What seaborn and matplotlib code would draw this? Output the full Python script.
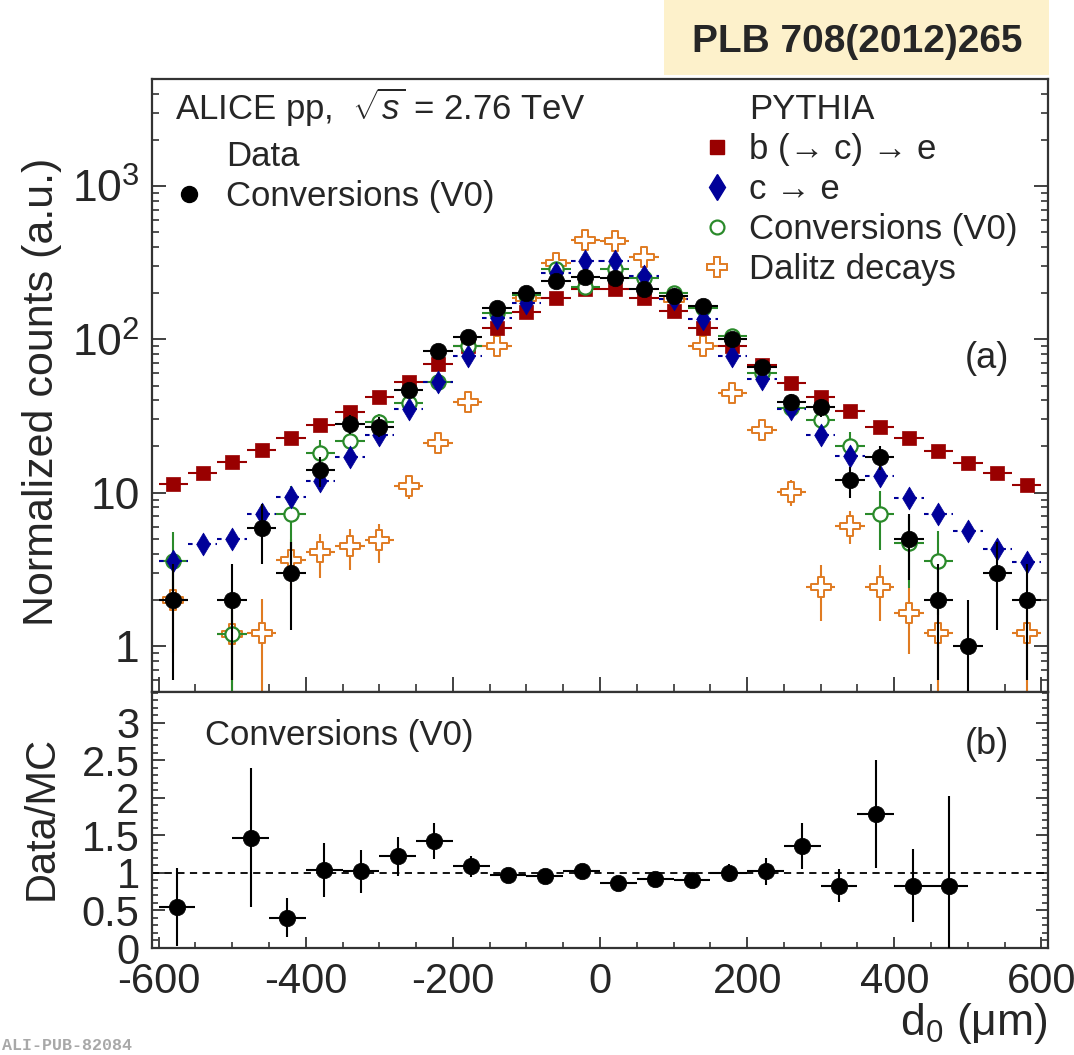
import numpy as np
import pandas as pd
import matplotlib
matplotlib.use("Agg")
import matplotlib.pyplot as plt
import seaborn as sns
from matplotlib.lines import Line2D
from matplotlib.patches import Rectangle
from matplotlib.ticker import FixedLocator, FixedFormatter, MultipleLocator, NullFormatter

# ---------------- data ----------------
d0_bins = [-580, -540, -500, -460, -420, -380, -340, -300, -260, -220,
           -180, -140, -100, -60, -20, 20, 60, 100, 140, 180,
           220, 260, 300, 340, 380, 420, 460, 500, 540, 580]
bin_half_width = 20

nan = np.nan
data_conv = [2.0, nan, 2.0, 5.9, 3.0, 14, 28, 27, 47, 84,
             103, 161, 200, 240, 257, 253, 214, 192, 164, 100,
             66, 39, 36, 12, 17.1, 5.0, 2.0, 1.0, 3.0, 2.0]
data_conv_err = [1.4, nan, 1.4, 2.5, 1.73, 3.2, 4, 4, 5, 6,
                 6, 7, 8, 8, 8, 8, 8, 7, 7, 6,
                 6, 5, 5, 2.8, 3.1, 2.3, 1.4, 0.99, 1.73, 1.4]

mc_bce = [11.3, 13.4, 15.8, 18.9, 22.8, 27.5, 33.7, 42, 52.6, 69,
          91, 119, 151, 187, 212, 212, 185, 152, 119, 90,
          68, 52, 42, 34, 27, 22.6, 18.8, 15.6, 13.5, 11.2]

mc_ce = [3.6, 4.6, 5.0, 7.3, 9.4, 11.9, 17.1, 23.6, 35.2, 52.6,
         78, 138, 174, 273, 325, 325, 259, 183, 135, 78,
         55, 35, 23.6, 17.3, 12.8, 9.2, 7.3, 5.6, 4.3, 3.5]

mc_conv = [3.6, nan, 1.2, nan, 7.2, 18, 21.6, 28.8, 38.6, 52.6,
           91, 149, 195, 287, 218, 287, 253, 200, 160, 105,
           60, 35.7, 29.7, 20.1, 7.2, 4.7, 3.6, nan, nan, nan]
mc_conv_err = [1.9, nan, 0.85, nan, 3.9, 4, 3.5, 4, 5, 6,
               8, 10, 12, 14, 12, 14, 13, 12, 10, 8,
               6, 5, 4.5, 4.8, 3, 2.3, 2, nan, nan, nan]

mc_dalitz = [2.0, nan, 1.2, 1.21, 3.65, 4.07, 4.46, 4.88, 11.0, 21.1,
             38.9, 91, 185, 317, 444, 436, 346, 183, 91, 45,
             25.7, 10.1, 2.42, 6.1, 2.42, 1.63, 1.21, nan, nan, 1.21]
mc_dalitz_err = [1.1, nan, 0.8, 0.8, 1.3, 1.3, 1.35, 1.4, 1.9, 2.5,
                 3, 5, 7, 9, 10, 10, 9, 7, 5, 3,
                 2.5, 1.9, 0.97, 1.5, 0.97, 0.75, 0.8, nan, nan, 0.8]

ratio_bins = [-575, -475, -425, -375, -325, -275, -225, -175, -125, -75, -25,
              25, 75, 125, 175, 225, 275, 325, 375, 425, 475]
ratio_half_width = 25
ratio_vals = [0.55, 1.47, 0.40, 1.04, 1.02, 1.22, 1.43, 1.09, 0.97, 0.96, 1.03,
              0.87, 0.92, 0.91, 1.00, 1.02, 1.36, 0.83, 1.78, 0.83, 0.83]
ratio_err = [0.52, 0.93, 0.26, 0.36, 0.29, 0.26, 0.24, 0.14, 0.04, 0.04, 0.04,
             0.04, 0.04, 0.04, 0.12, 0.18, 0.31, 0.22, 0.72, 0.49, 1.2]

y_major_top = [1, 10, 100, 1000]
y_major_top_labels = ["1", "10", r"$10^{2}$", r"$10^{3}$"]
x_major = [-600, -400, -200, 0, 200, 400, 600]
x_major_labels = ["-600", "-400", "-200", "0", "200", "400", "600"]
y_major_bot = [0, 0.5, 1, 1.5, 2, 2.5, 3]
y_major_bot_labels = ["0", "0.5", "1", "1.5", "2", "2.5", "3"]

# ---------------- style ----------------
sns.set_style("ticks")
plt.rcParams["font.family"] = ["Liberation Sans", "DejaVu Sans"]
plt.rcParams["mathtext.fontset"] = "custom"
plt.rcParams["mathtext.rm"] = "Liberation Sans"
plt.rcParams["mathtext.it"] = "Liberation Sans:italic"
plt.rcParams["mathtext.bf"] = "Liberation Sans:bold"

SPINE = "#333333"
C_DATA = "black"
C_BCE = "#990000"
C_CE = "#000099"
C_CONV = "#2a8a2a"
C_DAL = "#e07b22"

W, H = 1074, 1055
fig = plt.figure(figsize=(W / 100, H / 100), dpi=100)
fig.patch.set_facecolor("white")


def fx(px):
    return px / W


def fy(py):
    return 1 - py / H


ax1 = fig.add_axes([fx(152), fy(692), 896 / W, 613 / H])
ax2 = fig.add_axes([fx(152), fy(948), 896 / W, 256 / H])

x = np.array(d0_bins, dtype=float)


def draw_series(ax, xs, ys, errs, xerr, color, marker, s, face, lw, z, dashed=False):
    ys = np.asarray(ys, dtype=float)
    if errs is not None:
        errs = np.asarray(errs, dtype=float)
        lower = np.minimum(errs, ys * 0.995)
        yerr = [lower, errs]
    else:
        yerr = None
    cont = ax.errorbar(xs, ys, xerr=xerr, yerr=yerr, fmt="none", ecolor=color,
                       elinewidth=1.5, capsize=0, zorder=z)
    if dashed:
        cont[2][0].set_linestyle((0, (2.2, 2.2)))
    df = pd.DataFrame({"d0": xs, "v": ys}).dropna()
    sns.scatterplot(data=df, x="d0", y="v", ax=ax, marker=marker, s=s,
                    color=face, edgecolor=color, linewidth=lw, zorder=z + 0.5,
                    legend=False)


ax1.set_yscale("log")
draw_series(ax1, x, mc_dalitz, mc_dalitz_err, bin_half_width, C_DAL, "P", 200, "white", 1.4, 2)
draw_series(ax1, x, mc_bce, None, bin_half_width, C_BCE, "s", 100, C_BCE, 0.5, 3)
draw_series(ax1, x, mc_conv, mc_conv_err, bin_half_width, C_CONV, "o", 105, "white", 1.6, 4)
draw_series(ax1, x, mc_ce, None, bin_half_width, C_CE, "d", 135, C_CE, 0.5, 5, dashed=True)
draw_series(ax1, x, data_conv, data_conv_err, bin_half_width, C_DATA, "o", 140, C_DATA, 0.5, 6)

ax1.set_xlim(-609, 609)
ax1.set_ylim(0.5, 5000)
ax1.set_xlabel("")
ax1.set_ylabel("")

# ratio panel
ax2.axhline(1.0, color="black", lw=1.3, ls=(0, (4, 3)), zorder=1)
draw_series(ax2, np.array(ratio_bins, dtype=float), ratio_vals, ratio_err,
            ratio_half_width, C_DATA, "o", 140, C_DATA, 0.5, 6)
ax2.set_xlim(-609, 609)
ax2.set_ylim(0, 3.41)
ax2.set_xlabel("")
ax2.set_ylabel("")

# ---------------- axes cosmetics ----------------
for ax in (ax1, ax2):
    for sp in ax.spines.values():
        sp.set_visible(True)
        sp.set_color(SPINE)
        sp.set_linewidth(1.6)
    ax.xaxis.set_major_locator(FixedLocator(x_major))
    ax.xaxis.set_minor_locator(MultipleLocator(50))

ax1.yaxis.set_major_locator(FixedLocator(y_major_top))
ax1.yaxis.set_major_formatter(FixedFormatter(y_major_top_labels))
ax1.yaxis.set_minor_locator(FixedLocator(
    [m * 10.0 ** e for e in range(-1, 4) for m in range(2, 10)]))
ax1.yaxis.set_minor_formatter(NullFormatter())
ax1.tick_params(axis="both", which="both", direction="in", color=SPINE,
                top=False, right=True, bottom=True, left=True, labelbottom=False)
ax1.tick_params(axis="x", which="major", length=11, width=1.3)
ax1.tick_params(axis="x", which="minor", length=5.5, width=1.2)
ax1.tick_params(axis="y", which="major", length=10, width=1.3, labelsize=32, pad=9)
ax1.tick_params(axis="y", which="minor", length=5, width=1.2)

ax2.yaxis.set_major_locator(FixedLocator(y_major_bot))
ax2.yaxis.set_major_formatter(FixedFormatter(y_major_bot_labels))
ax2.yaxis.set_minor_locator(MultipleLocator(0.1))
ax2.xaxis.set_major_formatter(FixedFormatter(x_major_labels))
ax2.tick_params(axis="both", which="both", direction="in", color=SPINE,
                top=False, right=True, bottom=True, left=True)
ax2.tick_params(axis="x", which="major", length=8, width=1.3, pad=10, labelsize=30)
ax2.tick_params(axis="x", which="minor", length=4, width=1.2)
ax2.tick_params(axis="y", which="major", length=9, width=1.3, labelsize=30, pad=9)
ax2.tick_params(axis="y", which="minor", length=4.5, width=1.2)

# ---------------- texts ----------------
fig.text(fx(42), fy(392), "Normalized counts (a.u.)", rotation=90,
         ha="center", va="center", fontsize=31)
fig.text(fx(42), fy(818), "Data/MC", rotation=90, ha="center", va="center", fontsize=30)
fig.text(fx(1048), fy(1024), r"d$_{0}$ ($\mathrm{\mu}$m)", ha="right", va="center",
         fontsize=32)

fig.text(fx(175), fy(107), r"ALICE pp,  $\sqrt{s}$ = 2.76 TeV", ha="left", va="center",
         fontsize=25)
fig.text(fx(965), fy(358), "(a)", ha="left", va="center", fontsize=26)
fig.text(fx(965), fy(745), "(b)", ha="left", va="center", fontsize=26)
fig.text(fx(205), fy(735), "Conversions (V0)", ha="left", va="center", fontsize=25)

# PLB box
fig.patches.append(Rectangle((fx(664), fy(75)), (1049 - 664) / W, 75 / H,
                             transform=fig.transFigure, facecolor="#fdf1cb",
                             edgecolor="none", zorder=0))
fig.text(fx(857), fy(42), "PLB 708(2012)265", ha="center", va="center",
         fontsize=28, fontweight="bold")
fig.text(fx(2), fy(1046), "ALI-PUB-82084", ha="left", va="center",
         fontsize=12, color="#a8a8a8", fontweight="bold",
         fontfamily=["Liberation Mono", "DejaVu Sans Mono"])

# ---------------- legends ----------------
blank = Line2D([], [], linestyle="none", marker="")
h_data = Line2D([], [], linestyle="none", marker="o", markersize=11.5,
                markerfacecolor=C_DATA, markeredgecolor=C_DATA)
h_bce = Line2D([], [], linestyle="none", marker="s", markersize=9.5,
               markerfacecolor=C_BCE, markeredgecolor=C_BCE)
h_ce = Line2D([], [], linestyle="none", marker="d", markersize=13,
              markerfacecolor=C_CE, markeredgecolor=C_CE)
h_conv = Line2D([], [], linestyle="none", marker="o", markersize=10,
                markerfacecolor="white", markeredgecolor=C_CONV, markeredgewidth=1.6)
h_dal = Line2D([], [], linestyle="none", marker="P", markersize=14,
               markerfacecolor="white", markeredgecolor=C_DAL, markeredgewidth=1.4)

leg1 = ax1.legend([blank, h_data], ["Data", "Conversions (V0)"],
                  loc="upper left", bbox_to_anchor=(fx(172), fy(140)),
                  bbox_transform=fig.transFigure, frameon=False, fontsize=25,
                  handlelength=1.0, handletextpad=0.56, labelspacing=0.2,
                  borderpad=0, borderaxespad=0)
ax1.add_artist(leg1)
leg2 = ax1.legend([blank, h_bce, h_ce, h_conv, h_dal],
                  ["PYTHIA", "b (\u2192 c) \u2192 e",
                   "c \u2192 e", "Conversions (V0)", "Dalitz decays"],
                  loc="upper left", bbox_to_anchor=(fx(700), fy(93)),
                  bbox_transform=fig.transFigure, frameon=False, fontsize=25,
                  handlelength=1.0, handletextpad=0.42, labelspacing=0.2,
                  borderpad=0, borderaxespad=0)

fig.savefig("out.png", dpi=100, facecolor="white")
